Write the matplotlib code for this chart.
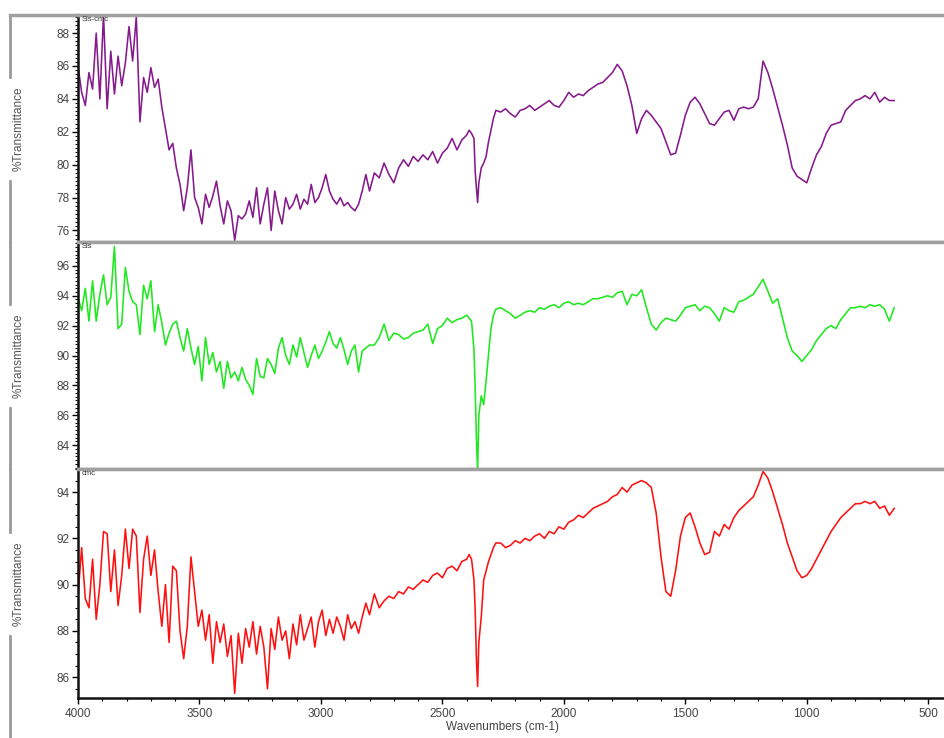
import matplotlib
matplotlib.use("Agg")
import matplotlib.pyplot as plt
from matplotlib.lines import Line2D
from matplotlib.ticker import MultipleLocator

plt.rcParams['font.family'] = ['Liberation Sans', 'DejaVu Sans']

# shared wavenumber grid (cm-1)
wavenumber = [
    4000, 3985, 3970, 3955, 3940, 3925, 3910, 3895, 3880, 3865,
    3850, 3835, 3820, 3805, 3790, 3775, 3760, 3745, 3730, 3715,
    3700, 3685, 3670, 3655, 3640, 3625, 3610, 3595, 3580, 3565,
    3550, 3535, 3520, 3505, 3490, 3475, 3460, 3445, 3430, 3415,
    3400, 3385, 3370, 3355, 3340, 3325, 3310, 3295, 3280, 3265,
    3250, 3235, 3220, 3205, 3190, 3175, 3160, 3145, 3130, 3115,
    3100, 3085, 3070, 3055, 3040, 3025, 3010, 2995, 2980, 2965,
    2950, 2935, 2920, 2905, 2890, 2875, 2860, 2845, 2830, 2815,
    2800,
    2780, 2760, 2740, 2720, 2700, 2680, 2660, 2640, 2620, 2600,
    2580, 2560, 2540, 2520, 2500, 2480, 2460, 2440, 2420, 2400,
    2390, 2380, 2370, 2365, 2360, 2355, 2350, 2340, 2330, 2320,
    2310, 2300, 2290, 2280,
    2260, 2240, 2220, 2200, 2180, 2160, 2140, 2120, 2100, 2080,
    2060, 2040, 2020, 2000, 1980, 1960, 1940, 1920, 1900, 1880,
    1860, 1840, 1820, 1800, 1780, 1760, 1740, 1720, 1700, 1680,
    1660, 1640, 1620, 1600, 1580, 1560, 1540, 1520, 1500, 1480,
    1460, 1440, 1420, 1400, 1380, 1360, 1340, 1320, 1300, 1280,
    1260, 1240, 1220, 1200, 1180, 1160, 1140, 1120, 1100, 1080,
    1060, 1040, 1020, 1000, 980, 960, 940, 920, 900, 880,
    860, 840, 820, 800, 780, 760, 740, 720, 700, 680,
    660, 640,
]

# %T, Sis-cmc (top panel)
t_sis_cmc = [
    86.0, 84.4, 83.6, 85.6, 84.6, 88.0, 84.0, 89.1, 83.4, 86.9,
    84.3, 86.6, 84.8, 86.2, 88.4, 86.3, 89.0, 82.6, 85.3, 84.4,
    85.9, 84.7, 85.2, 83.5, 82.2, 80.9, 81.3, 79.8, 78.8, 77.2,
    78.6, 80.9, 78.0, 77.4, 76.4, 78.2, 77.4, 78.1, 79.0, 77.5,
    76.4, 77.8, 77.2, 75.4, 76.9, 76.7, 77.0, 77.8, 76.8, 78.6,
    76.4, 77.6, 78.6, 76.0, 78.4, 77.2, 76.4, 78.0, 77.3, 77.6,
    78.2, 77.3, 77.9, 77.6, 78.8, 77.7, 78.0, 78.6, 79.4, 78.4,
    77.9, 77.6, 78.0, 77.5, 77.7, 77.4, 77.2, 77.6, 78.4, 79.4,
    78.4,
    79.5, 79.2, 80.1, 79.4, 78.9, 79.8, 80.3, 79.9, 80.5, 80.2,
    80.6, 80.3, 80.8, 80.1, 80.7, 81.0, 81.6, 80.9, 81.5, 81.8,
    82.1, 81.9, 81.6, 79.6, 78.6, 77.7, 78.9, 79.8, 80.1, 80.5,
    81.4, 82.1, 82.8, 83.3,
    83.2, 83.4, 83.1, 82.9, 83.3, 83.4, 83.6, 83.3, 83.5, 83.7,
    83.9, 83.6, 83.5, 83.9, 84.4, 84.1, 84.3, 84.2, 84.5, 84.7,
    84.9, 85.0, 85.3, 85.6, 86.1, 85.7, 84.8, 83.6, 81.9, 82.8,
    83.3, 83.0, 82.6, 82.2, 81.4, 80.6, 80.7, 81.8, 83.0, 83.8,
    84.1, 83.7, 83.1, 82.5, 82.4, 82.8, 83.2, 83.3, 82.7, 83.4,
    83.5, 83.4, 83.5, 84.0, 86.3, 85.6, 84.6, 83.5, 82.4, 81.2,
    79.8, 79.3, 79.1, 78.9, 79.8, 80.6, 81.1, 81.9, 82.4, 82.5,
    82.6, 83.3, 83.6, 83.9, 84.0, 84.2, 84.0, 84.4, 83.8, 84.1,
    83.9, 83.9,
]

# %T, Sis (middle panel)
t_sis = [
    93.9, 93.0, 94.5, 92.3, 95.0, 92.3, 94.1, 95.4, 93.4, 93.9,
    97.3, 91.8, 92.1, 95.9, 94.3, 93.6, 93.4, 91.4, 94.7, 93.8,
    95.0, 91.6, 93.4, 92.2, 90.7, 91.5, 92.1, 92.3, 91.2, 90.3,
    91.8, 90.5, 89.4, 90.6, 88.3, 91.2, 89.4, 90.2, 88.9, 89.6,
    87.8, 89.6, 88.5, 88.9, 88.3, 89.2, 88.4, 88.0, 87.4, 89.8,
    88.6, 88.5, 89.8, 89.4, 88.8, 90.5, 91.2, 90.0, 89.4, 90.7,
    89.9, 91.2, 90.2, 89.2, 90.0, 90.7, 89.8, 90.3, 90.9, 91.6,
    90.8, 90.5, 91.2, 90.4, 89.4, 90.3, 90.7, 88.9, 90.3, 90.5,
    90.7,
    90.7, 91.2, 92.1, 91.0, 91.5, 91.4, 91.1, 91.2, 91.5, 91.6,
    91.7, 92.1, 90.8, 91.8, 92.0, 92.5, 92.2, 92.4, 92.5, 92.7,
    92.5, 92.3, 90.4, 87.8, 84.5, 82.2, 86.0, 87.3, 86.7, 88.3,
    90.1, 91.8, 92.7, 93.1,
    93.2, 93.0, 92.8, 92.5, 92.7, 92.9, 93.0, 92.9, 93.2, 93.1,
    93.3, 93.4, 93.2, 93.5, 93.6, 93.4, 93.5, 93.4, 93.6, 93.8,
    93.8, 93.9, 94.0, 93.9, 94.2, 94.3, 93.4, 94.1, 94.0, 94.4,
    93.2, 92.1, 91.7, 92.2, 92.5, 92.4, 92.3, 92.7, 93.2, 93.3,
    93.4, 93.0, 93.3, 93.2, 92.8, 92.3, 93.2, 93.0, 92.9, 93.6,
    93.7, 93.9, 94.1, 94.6, 95.1, 94.3, 93.5, 93.8, 92.5, 91.2,
    90.3, 90.0, 89.6, 90.0, 90.4, 91.0, 91.4, 91.8, 92.0, 91.8,
    92.4, 92.8, 93.2, 93.2, 93.3, 93.2, 93.4, 93.3, 93.4, 93.1,
    92.3, 93.2,
]

# %T, cmc (bottom panel)
t_cmc = [
    89.5, 91.6, 89.4, 89.0, 91.1, 88.5, 90.0, 92.3, 92.2, 89.7,
    91.5, 89.1, 90.4, 92.4, 90.7, 92.4, 92.1, 88.8, 91.1, 92.1,
    90.4, 91.5, 89.7, 88.2, 90.0, 87.5, 90.8, 90.6, 88.0, 86.8,
    88.2, 91.2, 89.7, 88.2, 88.9, 87.6, 88.7, 86.6, 88.4, 87.5,
    88.3, 86.9, 87.8, 85.3, 87.9, 86.6, 88.1, 87.3, 88.4, 87.0,
    88.2, 87.3, 85.5, 88.1, 87.2, 88.6, 87.6, 88.0, 86.8, 88.3,
    87.4, 88.7, 87.6, 88.1, 88.6, 87.3, 88.4, 88.9, 87.8, 88.5,
    87.9, 88.6, 88.2, 87.6, 88.7, 88.1, 88.4, 87.9, 88.6, 89.2,
    88.7,
    89.6, 89.0, 89.3, 89.5, 89.4, 89.7, 89.6, 89.9, 89.8, 90.0,
    90.2, 90.1, 90.4, 90.5, 90.3, 90.7, 90.8, 90.6, 91.0, 91.1,
    91.3, 91.1, 90.2, 88.9, 86.8, 85.6, 87.5, 88.6, 90.2, 90.6,
    91.0, 91.3, 91.6, 91.8,
    91.8, 91.6, 91.7, 91.9, 91.8, 92.0, 91.9, 92.1, 92.2, 92.0,
    92.3, 92.2, 92.5, 92.4, 92.7, 92.8, 93.0, 92.9, 93.1, 93.3,
    93.4, 93.5, 93.6, 93.8, 93.9, 94.2, 94.0, 94.3, 94.4, 94.5,
    94.4, 94.2, 93.1, 91.2, 89.7, 89.5, 90.6, 92.1, 92.9, 93.1,
    92.5, 91.8, 91.3, 91.4, 92.3, 92.1, 92.6, 92.4, 92.9, 93.2,
    93.4, 93.6, 93.8, 94.3, 94.9, 94.6, 94.0, 93.3, 92.6, 91.8,
    91.2, 90.6, 90.3, 90.4, 90.7, 91.1, 91.5, 91.9, 92.3, 92.6,
    92.9, 93.1, 93.3, 93.5, 93.5, 93.6, 93.5, 93.6, 93.3, 93.4,
    93.0, 93.3,
]

assert len(wavenumber) == len(t_sis_cmc) == len(t_sis) == len(t_cmc)

names = ['Sis-cmc', 'Sis', 'cmc']
series = [t_sis_cmc, t_sis, t_cmc]
colors = ['#861a8c', '#1ee81e', '#ff1010']
ylims = [(75.3, 89.1), (82.4, 97.6), (85.1, 95.0)]
yticks = [range(76, 89, 2), range(84, 97, 2), range(86, 95, 2)]
yminor = [0.25, 0.25, 0.5]

W, H = 945, 738
fig = plt.figure(figsize=(W / 100, H / 100), dpi=100)

# panel boxes in pixels (top, bottom)
panels = [(15, 242), (242, 469), (469, 698)]
left_px = 78
xmin, xmax = 4000, 431

axes = []
for i, (top, bot) in enumerate(panels):
    ax = fig.add_axes([left_px / W, 1 - bot / H, 1 - left_px / W, (bot - top) / H])
    ax.plot(wavenumber, series[i], color=colors[i], lw=1.15)
    ax.set_xlim(xmin, xmax)
    ax.set_ylim(*ylims[i])
    ax.set_yticks(list(yticks[i]))
    ax.yaxis.set_minor_locator(MultipleLocator(yminor[i]))
    ax.tick_params(axis='y', which='major', direction='out', length=4, width=1,
                   labelsize=8.5, labelcolor='#444444', pad=2)
    ax.tick_params(axis='y', which='minor', direction='out', length=2.5, width=0.8)
    ax.spines['right'].set_visible(False)
    ax.spines['left'].set_linewidth(1.8)
    ax.spines['left'].set_color('#111111')
    ax.spines['top'].set_color('#a0a0a0')
    ax.spines['top'].set_linewidth(2.5)
    ax.spines['bottom'].set_color('#a0a0a0')
    ax.spines['bottom'].set_linewidth(2.5)
    ax.text(0.004, 0.995, names[i], transform=ax.transAxes, va='top', ha='left',
            fontsize=5.5, color='#333333')
    if i < 2:
        ax.tick_params(axis='x', which='both', bottom=False, labelbottom=False)
    axes.append(ax)

axb = axes[2]
axb.set_xticks([4000, 3500, 3000, 2500, 2000, 1500, 1000, 500])
axb.xaxis.set_minor_locator(MultipleLocator(100))
axb.tick_params(axis='x', which='major', direction='out', length=4, width=1,
                labelsize=8.5, labelcolor='#444444', pad=3)
axb.tick_params(axis='x', which='minor', direction='out', length=2.5, width=0.8)
axb.spines['bottom'].set_color('#111111')
axb.spines['bottom'].set_linewidth(1.8)

fig.text(503 / W, 1 - 727 / H, 'Wavenumbers (cm-1)', ha='center', va='center',
         fontsize=8.5, color='#444444')

# y labels with bracket lines on the far left
for k, (top, bot) in enumerate(panels):
    mid = (top + bot) / 2
    fig.text(19 / W, 1 - mid / H, '%Transmittance', rotation=90, ha='center',
             va='center', fontsize=8.5, color='#555555')
    half = 52
    end = H if k == 2 else bot
    for y0, y1 in [(top, mid - half), (mid + half, end)]:
        fig.add_artist(Line2D([10 / W, 10 / W], [1 - y0 / H, 1 - y1 / H],
                              transform=fig.transFigure, color='#9a9a9a', lw=2))

# outer frame line along the top
fig.add_artist(Line2D([10 / W, left_px / W], [1 - 15 / H, 1 - 15 / H],
                      transform=fig.transFigure, color='#a0a0a0', lw=2.5))

fig.savefig('out.png', dpi=100)
